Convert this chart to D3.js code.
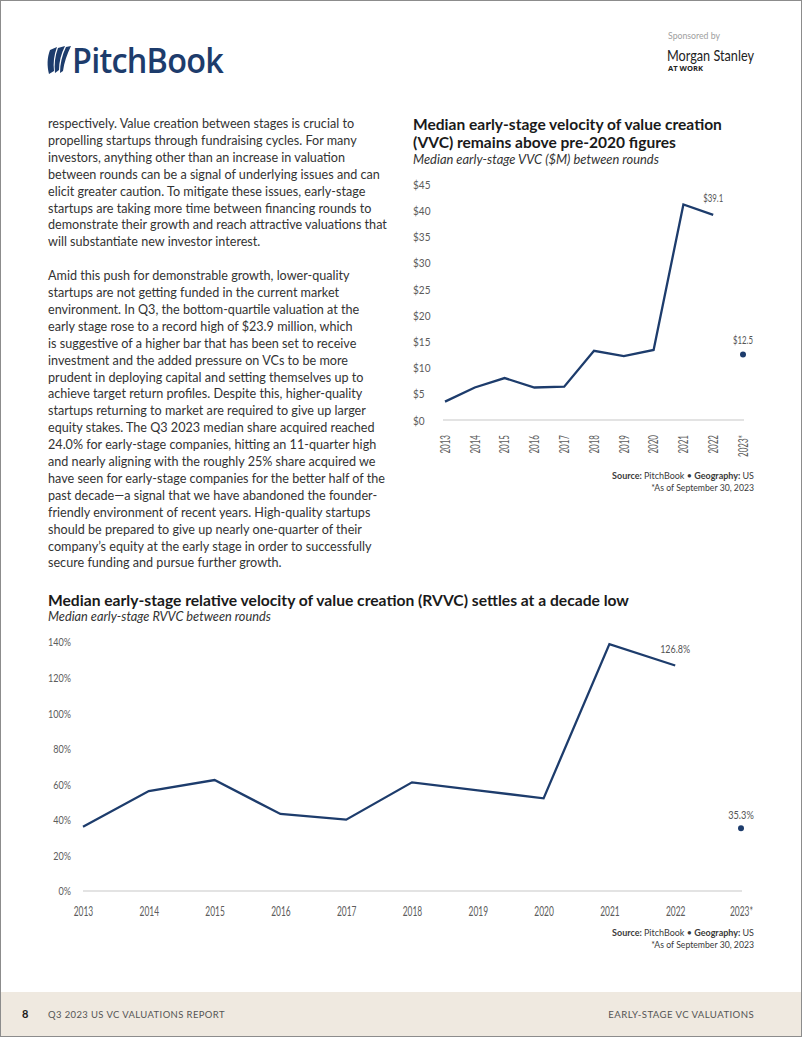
<!DOCTYPE html>
<html><head><meta charset="utf-8">
<script src="https://cdn.jsdelivr.net/npm/d3@7"></script>
<style>
html,body{margin:0;padding:0;background:#fff;}
svg{display:block;}
</style></head><body>
<svg id="page" width="802" height="1037"></svg>
<script>
// ---------- DATA ----------
const years = ["2013","2014","2015","2016","2017","2018","2019","2020","2021","2022","2023*"];
const vvcValues = [3.5, 6.2, 8.0, 6.2, 6.35, 13.2, 12.2, 13.35, 41.1, 39.1];
const vvc2023 = 12.5;
const vvcTicks = [0,5,10,15,20,25,30,35,40,45];
const rvvcValues = [36.1, 56.2, 62.4, 43.3, 40.1, 61.1, 56.6, 52.1, 138.8, 126.8];
const rvvc2023 = 35.3;
const rvvcTicks = [0,20,40,60,80,100,120,140];

const para1 = [
"respectively. Value creation between stages is crucial to",
"propelling startups through fundraising cycles. For many",
"investors, anything other than an increase in valuation",
"between rounds can be a signal of underlying issues and can",
"elicit greater caution. To mitigate these issues, early-stage",
"startups are taking more time between financing rounds to",
"demonstrate their growth and reach attractive valuations that",
"will substantiate new investor interest."];
const para2 = [
"Amid this push for demonstrable growth, lower-quality",
"startups are not getting funded in the current market",
"environment. In Q3, the bottom-quartile valuation at the",
"early stage rose to a record high of $23.9 million, which",
"is suggestive of a higher bar that has been set to receive",
"investment and the added pressure on VCs to be more",
"prudent in deploying capital and setting themselves up to",
"achieve target return profiles. Despite this, higher-quality",
"startups returning to market are required to give up larger",
"equity stakes. The Q3 2023 median share acquired reached",
"24.0% for early-stage companies, hitting an 11-quarter high",
"and nearly aligning with the roughly 25% share acquired we",
"have seen for early-stage companies for the better half of the",
"past decade\u2014a signal that we have abandoned the founder-",
"friendly environment of recent years. High-quality startups",
"should be prepared to give up nearly one-quarter of their",
"company\u2019s equity at the early stage in order to successfully",
"secure funding and pursue further growth."];

// ---------- STYLE ----------
const NAVY = "#1d3c6c";
const SANS = "Lato, 'Open Sans', sans-serif";
const TICK = "#5c5c5c";
const svg = d3.select("#page");

function fitWidth(sel, target){
  const w = sel.node().getComputedTextLength();
  const fs = parseFloat(sel.attr("font-size"));
  if (w > 0) sel.attr("font-size", (fs*target/w).toFixed(2));
}
// horizontally condense a group of labels so that a reference label reaches a target width
function condense(sel, refNode, target){
  const rw = refNode.getComputedTextLength();
  if (!(rw > 0)) return;
  const f = target / rw;
  sel.each(function(){
    const w = this.getComputedTextLength();
    d3.select(this).attr("textLength", (w*f).toFixed(2)).attr("lengthAdjust","spacingAndGlyphs");
  });
}

// border
svg.append("rect").attr("x",0.5).attr("y",0.5).attr("width",801).attr("height",1036)
  .attr("fill","#fff").attr("stroke","#8c8c8c").attr("stroke-width",1);

// ---------- HEADER ----------
const logo = svg.append("g");
logo.append("path").attr("fill",NAVY)
  .attr("d","M50,50 L57,47 C54,55 53,63 54,71 L49,74 C47,66 47,58 50,50 Z");
logo.append("path").attr("fill",NAVY)
  .attr("d","M58,48 L65,46 C61,54 59,62 59,70 L55,73 C54,64 55,56 58,48 Z");
logo.append("path").attr("fill",NAVY)
  .attr("d","M66,47 L71,46 C67,54 64,63 63,71 L60,73 C60,64 62,55 66,47 Z");
const pb = logo.append("text").attr("x",72).attr("y",73).attr("font-family","'Open Sans', sans-serif")
  .attr("font-size",34).attr("font-weight",600).attr("fill",NAVY).attr("letter-spacing",-0.8).text("PitchBook");
condense(pb, pb.node(), 151);

const sp = svg.append("text").attr("x",668).attr("y",39).attr("font-family",SANS).attr("font-size",8.5)
  .attr("fill","#a0a0a0").text("Sponsored by");
fitWidth(sp,52);
const ms = svg.append("text").attr("x",667).attr("y",61).attr("font-family",SANS).attr("font-size",15)
  .attr("fill","#222").text("Morgan Stanley");
condense(ms, ms.node(), 87);
const aw = svg.append("text").attr("x",668).attr("y",70.5).attr("font-family","'Open Sans', sans-serif").attr("font-size",7)
  .attr("font-weight",700).attr("fill","#222").text("AT WORK");
fitWidth(aw,35);

// ---------- BODY TEXT ----------
const bodyG = svg.append("g").attr("font-family",SANS).attr("fill","#333");
const allLines = para1.concat([""], para2);
const bodyT = bodyG.selectAll("text").data(allLines).join("text")
  .attr("x",48).attr("y",(d,i)=>128 + i*16.9).attr("font-size",13).text(d=>d);
(function(){
  const ref = bodyT.filter((d,i)=>i===6);
  const w = ref.node().getComputedTextLength();
  const fs = w>0 ? 13*339/w : 13;
  bodyT.attr("font-size",fs.toFixed(2));
})();

// ---------- CHART HELPERS ----------
function sourceNote(g, xRight, y){
  const t = g.append("text").attr("x",xRight).attr("y",y).attr("text-anchor","end")
    .attr("font-family",SANS).attr("font-size",9).attr("fill","#3a3a3a");
  t.append("tspan").attr("font-weight",700).text("Source: ");
  t.append("tspan").text("PitchBook  \u2022  ");
  t.append("tspan").attr("font-weight",700).text("Geography: ");
  t.append("tspan").text("US");
  fitWidth(t,142);
  const n = g.append("text").attr("x",xRight).attr("y",y+12).attr("text-anchor","end")
    .attr("font-family",SANS).attr("font-size",8.8).attr("fill","#3a3a3a").text("*As of September 30, 2023");
  fitWidth(n,103);
}

// ---------- TOP CHART (VVC) ----------
const topG = svg.append("g");
const t1 = topG.append("text").attr("x",413).attr("y",130).attr("font-family",SANS).attr("font-weight",700)
  .attr("font-size",15).attr("fill","#1a1a1a").text("Median early-stage velocity of value creation");
fitWidth(t1,309);
topG.append("text").attr("x",413).attr("y",147.5).attr("font-family",SANS).attr("font-weight",700)
  .attr("font-size",t1.attr("font-size")).attr("fill","#1a1a1a").text("(VVC) remains above pre-2020 figures");
const s1 = topG.append("text").attr("x",413).attr("y",164).attr("font-family",SANS).attr("font-style","italic")
  .attr("font-size",12).attr("fill","#333").text("Median early-stage VVC ($M) between rounds");
fitWidth(s1,246);

const x1 = d3.scalePoint().domain(years).range([445,743]);
const y1 = d3.scaleLinear().domain([0,45]).range([420,184]);

topG.append("line").attr("x1",443).attr("x2",744).attr("y1",y1(0)).attr("y2",y1(0))
  .attr("stroke","#dadada").attr("stroke-width",1.3);

const yAx1 = topG.append("g").attr("transform","translate(413,0)")
  .call(d3.axisRight(y1).tickValues(vvcTicks).tickSize(0).tickPadding(0).tickFormat(d=>"$"+d));
yAx1.select(".domain").remove();
const yt1 = yAx1.selectAll("text").attr("font-family",SANS).attr("font-size",12).attr("fill",TICK).attr("dy","0.35em");
condense(yt1, yt1.nodes()[9], 17.5);

const xAx1 = topG.append("g").attr("transform","translate(0,435)")
  .call(d3.axisBottom(x1).tickSize(0).tickPadding(0));
xAx1.select(".domain").remove();
const xt1 = xAx1.selectAll("text").attr("font-family",SANS).attr("font-size",12.5).attr("fill",TICK)
  .attr("text-anchor","end").attr("transform","rotate(-90)").attr("dy","0.35em").attr("dx",0).attr("y",0).attr("x",0);
condense(xt1, xt1.nodes()[0], 18.5);

const line1 = d3.line().x((d,i)=>x1(years[i])).y(d=>y1(d));
topG.append("path").datum(vvcValues).attr("d",line1).attr("fill","none")
  .attr("stroke",NAVY).attr("stroke-width",2.3);
topG.append("circle").attr("cx",x1(years[10])).attr("cy",y1(vvc2023)).attr("r",3).attr("fill",NAVY);

const l1a = topG.append("text").attr("x",x1(years[9])).attr("y",y1(vvcValues[9])-13).attr("text-anchor","middle")
  .attr("font-family",SANS).attr("font-size",11.5).attr("fill","#555").text("$"+vvcValues[9].toFixed(1));
const l1b = topG.append("text").attr("x",x1(years[10])).attr("y",y1(vvc2023)-10).attr("text-anchor","middle")
  .attr("font-family",SANS).attr("font-size",11.5).attr("fill","#555").text("$"+vvc2023.toFixed(1));
condense(l1a, l1a.node(), 20);
condense(l1b, l1b.node(), 20);

sourceNote(topG, 754, 479);

// ---------- BOTTOM CHART (RVVC) ----------
const botG = svg.append("g");
const t2 = botG.append("text").attr("x",48).attr("y",606).attr("font-family",SANS).attr("font-weight",700)
  .attr("font-size",15).attr("fill","#1a1a1a")
  .text("Median early-stage relative velocity of value creation (RVVC) settles at a decade low");
fitWidth(t2,581);
const s2 = botG.append("text").attr("x",48).attr("y",621).attr("font-family",SANS).attr("font-style","italic")
  .attr("font-size",12).attr("fill","#333").text("Median early-stage RVVC between rounds");
fitWidth(s2,223);

const x2 = d3.scalePoint().domain(years).range([83,741]);
const y2 = d3.scaleLinear().domain([0,140]).range([891,642]);

botG.append("line").attr("x1",83).attr("x2",742).attr("y1",y2(0)).attr("y2",y2(0))
  .attr("stroke","#dadada").attr("stroke-width",1.3);

const yAx2 = botG.append("g").attr("transform","translate(71,0)")
  .call(d3.axisLeft(y2).tickValues(rvvcTicks).tickSize(0).tickPadding(0).tickFormat(d=>d+"%"));
yAx2.select(".domain").remove();
const yt2 = yAx2.selectAll("text").attr("font-family",SANS).attr("font-size",11).attr("fill",TICK).attr("dy","0.35em");
condense(yt2, yt2.nodes()[7], 23);

const xAx2 = botG.append("g").attr("transform","translate(0,907)")
  .call(d3.axisBottom(x2).tickSize(0).tickPadding(0));
xAx2.select(".domain").remove();
const xt2 = xAx2.selectAll("text").attr("font-family",SANS).attr("font-size",12.5).attr("fill",TICK).attr("dy","0.71em");
condense(xt2, xt2.nodes()[0], 19.5);

const line2 = d3.line().x((d,i)=>x2(years[i])).y(d=>y2(d));
botG.append("path").datum(rvvcValues).attr("d",line2).attr("fill","none")
  .attr("stroke",NAVY).attr("stroke-width",2.3);
botG.append("circle").attr("cx",x2(years[10])).attr("cy",y2(rvvc2023)).attr("r",3).attr("fill",NAVY);

const l2a = botG.append("text").attr("x",x2(years[9])).attr("y",y2(rvvcValues[9])-12).attr("text-anchor","middle")
  .attr("font-family",SANS).attr("font-size",11).attr("fill","#555").text(rvvcValues[9].toFixed(1)+"%");
const l2b = botG.append("text").attr("x",x2(years[10])).attr("y",y2(rvvc2023)-9).attr("text-anchor","middle")
  .attr("font-family",SANS).attr("font-size",11).attr("fill","#555").text(rvvc2023.toFixed(1)+"%");
condense(l2a, l2a.node(), 30);
condense(l2b, l2b.node(), 25.7);

sourceNote(botG, 754, 936);

// ---------- FOOTER ----------
svg.append("rect").attr("x",1).attr("y",992).attr("width",800).attr("height",44).attr("fill","#efe9e0");
svg.append("text").attr("x",22).attr("y",1018).attr("font-family",SANS).attr("font-weight",700)
  .attr("font-size",11).attr("fill","#1a1a1a").text("8");
const f1 = svg.append("text").attr("x",48).attr("y",1018).attr("font-family",SANS).attr("font-size",9.5)
  .attr("letter-spacing",0.4).attr("fill","#555").text("Q3 2023 US VC VALUATIONS REPORT");
fitWidth(f1,177);
const f2 = svg.append("text").attr("x",754).attr("y",1018).attr("text-anchor","end").attr("font-family",SANS)
  .attr("font-size",9.5).attr("letter-spacing",0.4).attr("fill","#555").text("EARLY-STAGE VC VALUATIONS");
fitWidth(f2,146);
</script>
</body></html>
